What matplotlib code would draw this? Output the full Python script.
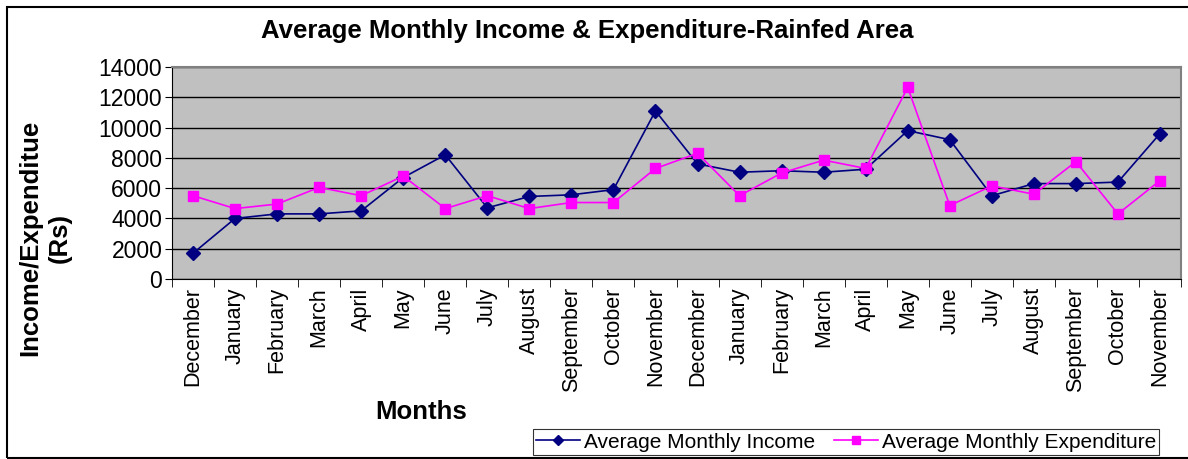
import numpy as np
import matplotlib.pyplot as plt
from matplotlib.patches import Rectangle

plt.rcParams['font.family'] = ['Liberation Sans', 'DejaVu Sans']

months = ["December", "January", "February", "March", "April", "May", "June",
          "July", "August", "September", "October", "November",
          "December", "January", "February", "March", "April", "May", "June",
          "July", "August", "September", "October", "November"]
income = [1700, 4000, 4300, 4300, 4500, 6700, 8200, 4700, 5450, 5560, 5900, 11100,
          7600, 7050, 7150, 7050, 7250, 9800, 9200, 5500, 6300, 6300, 6400, 9600]
expenditure = [5500, 4650, 4950, 6050, 5500, 6800, 4650, 5500, 4650, 5050, 5050, 7300,
               8300, 5500, 7000, 7850, 7300, 12650, 4850, 6150, 5600, 7750, 4300, 6500]

W, H = 1188, 459
fig = plt.figure(figsize=(W / 100, H / 100), dpi=100)
ax = fig.add_axes([172 / W, 1 - 279 / H, (1181 - 172) / W, (279 - 67) / H])

x = np.arange(len(months))
ax.plot(x, income, color='#000080', marker='D', markersize=7, linewidth=1.2,
        label='Average Monthly Income')
ax.plot(x, expenditure, color='#FF00FF', marker='s', markersize=7.5, linewidth=1.2,
        label='Average Monthly Expenditure')

ax.set_facecolor('#C0C0C0')
ax.set_xlim(-0.5, len(months) - 0.5)
ax.set_ylim(0, 14000)
ax.set_yticks(np.arange(0, 14001, 2000))
ax.yaxis.grid(True, color='black', linewidth=1)
ax.set_axisbelow(True)
ax.set_xticks(x)
ax.set_xticklabels(months, rotation=90, fontsize=15.5)
ax.set_xticks(np.arange(-0.5, len(months), 1), minor=True)
ax.tick_params(axis='x', which='major', length=0, pad=6)
ax.tick_params(axis='x', which='minor', length=6, color='black')
ax.tick_params(axis='y', labelsize=16.5, length=5, pad=2)
for s in ['top', 'right']:
    ax.spines[s].set_color('#808080')
    ax.spines[s].set_linewidth(1.5)
for s in ['left', 'bottom']:
    ax.spines[s].set_color('black')

fig.text(587 / W, 1 - 31 / H, 'Average Monthly Income & Expenditure-Rainfed Area',
         ha='center', va='center', fontsize=18.5, fontweight='bold')
fig.text(421 / W, 1 - 412 / H, 'Months', ha='center', va='center',
         fontsize=18.5, fontweight='bold')
fig.text(45 / W, 1 - 238 / H, 'Income/Expenditue\n(Rs)', ha='center', va='center',
         rotation=90, fontsize=18.5, fontweight='bold', linespacing=1.3)

leg = fig.legend(loc='center', bbox_to_anchor=(846 / W, 1 - 442 / H), ncol=2,
                 fontsize=15, frameon=True, fancybox=False, edgecolor='black',
                 borderpad=0.15, handlelength=2.1, columnspacing=0.9,
                 handletextpad=0.2, borderaxespad=0, markerscale=0.8)
leg.get_frame().set_linewidth(0.8)

fig.patches.append(Rectangle((7 / W, 1 / H), 1.0, 1 - 8 / H, transform=fig.transFigure,
                             fill=False, edgecolor='black', linewidth=1.5))

fig.savefig('out.png', dpi=100, facecolor='white')
